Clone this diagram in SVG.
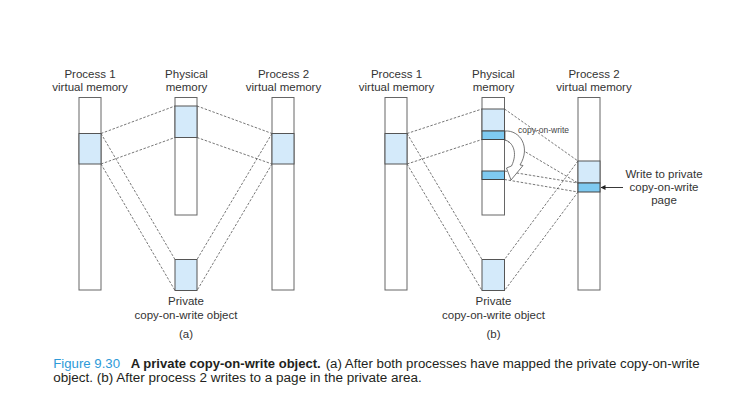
<svg xmlns="http://www.w3.org/2000/svg" width="735" height="414" viewBox="0 0 735 414">
<defs>
<style>
.bar{fill:#ffffff;stroke:#666666;stroke-width:1}
.lt{fill:#d4eafa;stroke:#555555;stroke-width:1}
.dk{fill:#7fcaf1;stroke:#444444;stroke-width:1}
.dash{stroke:#4a4a4a;stroke-width:0.75;stroke-dasharray:2.5 1.6;fill:none}
.lbl{font-family:"Liberation Sans",Arial,sans-serif;font-size:11.5px;fill:#333333;text-anchor:middle}
.sm{font-family:"Liberation Sans",Arial,sans-serif;font-size:8.5px;fill:#444444}
.cap{font-family:"Liberation Sans",Arial,sans-serif;font-size:12px;fill:#231f20}
</style>
<marker id="ah" viewBox="0 0 10 10" refX="9" refY="5" markerWidth="5" markerHeight="5" orient="auto" markerUnits="userSpaceOnUse">
<path d="M0,0 L10,5 L0,10 Z" fill="#222222"/>
</marker>
</defs>
<rect width="735" height="414" fill="#ffffff"/>

<!-- Connectors -->
<g id="connectors">
<line class="dash" x1="101" y1="133.5" x2="175" y2="106"/>
<line class="dash" x1="101" y1="164" x2="175" y2="137.5"/>
<line class="dash" x1="197" y1="106" x2="272" y2="133.5"/>
<line class="dash" x1="197" y1="137.5" x2="272" y2="164"/>
<line class="dash" x1="101" y1="133.5" x2="175" y2="259.5"/>
<line class="dash" x1="101" y1="164" x2="175" y2="290.5"/>
<line class="dash" x1="272" y1="133.5" x2="197" y2="259.5"/>
<line class="dash" x1="272" y1="164" x2="197" y2="290.5"/>

<line class="dash" x1="407" y1="133.5" x2="482" y2="109"/>
<line class="dash" x1="407" y1="164" x2="482" y2="139.5"/>
<line class="dash" x1="504.5" y1="109" x2="578" y2="161"/>
<line class="dash" x1="504.5" y1="139.5" x2="578" y2="183"/>
<line class="dash" x1="504.5" y1="171" x2="578" y2="183"/>
<line class="dash" x1="504.5" y1="179.5" x2="578" y2="192"/>
<line class="dash" x1="407" y1="133.5" x2="482" y2="259.5"/>
<line class="dash" x1="407" y1="164" x2="482" y2="290.5"/>
<line class="dash" x1="578" y1="161" x2="504.5" y2="259.5"/>
<line class="dash" x1="578" y1="192" x2="504.5" y2="290.5"/>
<path d="M505,131 C520,130 531,147 520,165 L523,165.5 L511,180 L506.5,168 L511.5,166 C518,153 513,142 505,140 Z" fill="#ffffff" stroke="#555555" stroke-width="0.8"/>
<line x1="623" y1="187.5" x2="601" y2="187.5" stroke="#222222" stroke-width="0.9" marker-end="url(#ah)"/>
</g>

<!-- Panel (a) -->
<g id="a-proc1">
<rect class="bar" x="79" y="97.5" width="22" height="192.5"/>
<rect class="lt" x="79" y="133.5" width="22" height="30.5"/>
<text class="lbl" x="90" y="77.5">Process 1</text>
<text class="lbl" x="90" y="90.5">virtual memory</text>
</g>
<g id="a-phys">
<rect class="bar" x="175" y="97.5" width="22" height="117.5"/>
<rect class="lt" x="175" y="106" width="22" height="31.5"/>
<text class="lbl" x="186.5" y="77.5">Physical</text>
<text class="lbl" x="186.5" y="90.5">memory</text>
</g>
<g id="a-proc2">
<rect class="bar" x="272" y="97.5" width="22" height="192.5"/>
<rect class="lt" x="272" y="133.5" width="22" height="30.5"/>
<text class="lbl" x="283.5" y="77.5">Process 2</text>
<text class="lbl" x="283.5" y="90.5">virtual memory</text>
</g>
<g id="a-private">
<rect class="lt" x="175" y="259.5" width="22" height="31"/>
<text class="lbl" x="186" y="305">Private</text>
<text class="lbl" x="186" y="318.5">copy-on-write object</text>
<text class="lbl" x="186" y="338">(a)</text>
</g>

<!-- Panel (b) -->
<g id="b-proc1">
<rect class="bar" x="385" y="97.5" width="22" height="192.5"/>
<rect class="lt" x="385" y="133.5" width="22" height="30.5"/>
<text class="lbl" x="396.5" y="77.5">Process 1</text>
<text class="lbl" x="396.5" y="90.5">virtual memory</text>
</g>
<g id="b-phys">
<rect class="bar" x="482" y="97.5" width="22.5" height="117.5"/>
<rect class="lt" x="482" y="109" width="22.5" height="22"/>
<rect class="dk" x="482" y="131" width="22.5" height="8.5"/>
<rect class="dk" x="482" y="171" width="22.5" height="8.5"/>
<text class="lbl" x="493.5" y="77.5">Physical</text>
<text class="lbl" x="493.5" y="90.5">memory</text>
<text class="sm" x="518" y="132.5">copy-on-write</text>
</g>
<g id="b-proc2">
<rect class="bar" x="578" y="97.5" width="22" height="192.5"/>
<rect class="lt" x="578" y="161" width="22" height="22"/>
<rect class="dk" x="578" y="183" width="22" height="9"/>
<text class="lbl" x="594" y="77.5">Process 2</text>
<text class="lbl" x="594" y="90.5">virtual memory</text>
</g>
<g id="b-write">
<text class="lbl" x="664" y="178">Write to private</text>
<text class="lbl" x="664" y="191">copy-on-write</text>
<text class="lbl" x="664" y="204">page</text>
</g>
<g id="b-private">
<rect class="lt" x="482" y="259.5" width="22.5" height="31"/>
<text class="lbl" x="493.5" y="305">Private</text>
<text class="lbl" x="493.5" y="318.5">copy-on-write object</text>
<text class="lbl" x="493.5" y="338">(b)</text>
</g>

<!-- Caption -->
<g id="caption">
<text class="cap" x="53.3" y="368" textLength="66.7" lengthAdjust="spacingAndGlyphs" style="fill:#2e9ad8">Figure 9.30</text>
<text class="cap" x="130.7" y="368" font-weight="bold" textLength="190" lengthAdjust="spacingAndGlyphs">A private copy-on-write object.</text>
<text class="cap" x="325.7" y="368" textLength="374" lengthAdjust="spacingAndGlyphs">(a) After both processes have mapped the private copy-on-write</text>
<text class="cap" x="53.3" y="382" textLength="368.4" lengthAdjust="spacingAndGlyphs">object. (b) After process 2 writes to a page in the private area.</text>
</g>
</svg>
